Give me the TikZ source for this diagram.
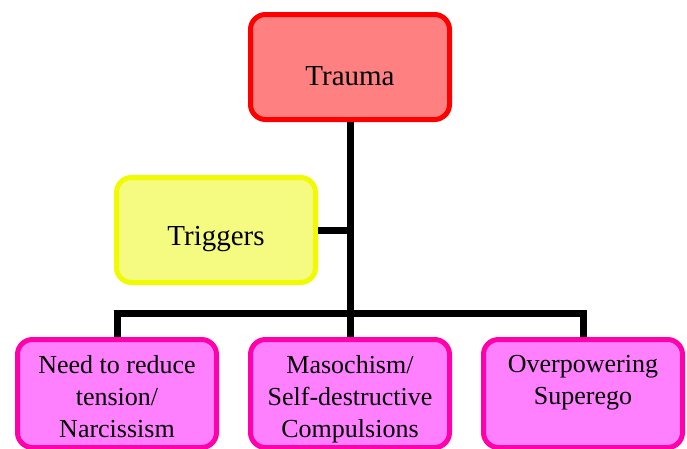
\documentclass[tikz,border=0pt]{standalone}
\usepackage{fontspec}
\setmainfont{Liberation Serif}
\usepackage{tikz}
\usetikzlibrary{positioning}

\tikzset{
    box/.style={draw, line width=5pt, rounded corners=15pt, minimum width=199pt, minimum height=105pt},
    redbox/.style={box, draw={rgb,255:red,255;green,0;blue,0}, fill={rgb,255:red,255;green,128;blue,128}},
    yellowbox/.style={box, draw={rgb,255:red,240;green,250;blue,0}, fill={rgb,255:red,245;green,250;blue,128}},
    pinkbox/.style={box, minimum height=108pt, draw={rgb,255:red,255;green,0;blue,170}, fill={rgb,255:red,255;green,128;blue,255}},
    txt/.style={align=center, font=\fontsize{26}{32}\selectfont, inner sep=0pt},
    bigtxt/.style={txt, font=\fontsize{29}{34}\selectfont},
    link/.style={line width=7pt}
}

\begin{document}
\begin{tikzpicture}[x=1pt, y=-1pt]
            \useasboundingbox (0,0) rectangle (687,448);
            \clip (0,0) rectangle (687,448);

            \node[redbox] (trauma) at (350, 67) {};
            \node[yellowbox] (trig) at (216, 230) {};
            \node[bigtxt] at ([yshift=-9pt]trauma.center) {Trauma};
            \node[bigtxt] at ([yshift=-9pt]trig.center) {Triggers};

            \node[pinkbox] (need) at (117, 393.5) {};
            \node[pinkbox] (maso) at (350, 393.5) {};
            \node[pinkbox] (over) at (583, 393.5) {};

            \node[txt, below = 18pt] at (need.north) {Need to reduce\\tension/\\Narcissism};
            \node[txt, below = 18pt] at (maso.north) {Masochism/\\Self-destructive\\Compulsions};
            \node[txt, below = 18pt] at (over.north) {Overpowering\\Superego};

            \coordinate (hub) at (350, 313);
            \draw[link] (trauma.south) -- (maso.north);
            \draw[link] (trig.east) -- (trig.east -| hub);
            \draw[link] (need.north) |- (hub) -| (over.north);
        \end{tikzpicture}
\end{document}
